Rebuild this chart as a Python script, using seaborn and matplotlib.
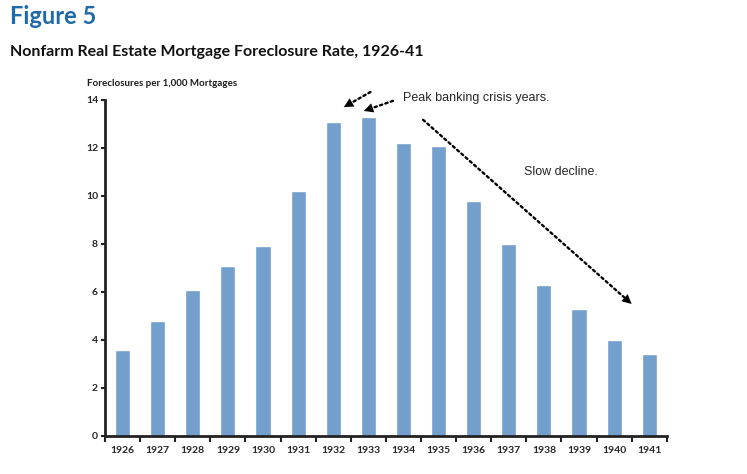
import matplotlib
matplotlib.use("Agg")
import matplotlib.pyplot as plt
import seaborn as sns
import numpy as np

# data
years = ["1926", "1927", "1928", "1929", "1930", "1931", "1932", "1933",
         "1934", "1935", "1936", "1937", "1938", "1939", "1940", "1941"]
rates = [3.6, 4.8, 6.1, 7.1, 7.9, 10.2, 13.1, 13.3,
         12.2, 12.1, 9.8, 8.0, 6.3, 5.3, 4.0, 3.4]
y_ticks = [0, 2, 4, 6, 8, 10, 12, 14]

sns.set_style("ticks")
plt.rcParams["font.family"] = ["Lato", "DejaVu Sans"]

fig = plt.figure(figsize=(7.47, 4.74), dpi=100)
ax = fig.add_axes([0.1406, 0.0802, 0.752, 0.709])

sns.barplot(x=years, y=rates, color="#729fcc", width=0.43, saturation=1, ax=ax)

ax.set_xlim(-0.5, len(years) - 0.5)
ax.set_ylim(0, 14)
ax.set_yticks(y_ticks)
ax.set_yticklabels([str(t) for t in y_ticks], fontsize=7.5, fontweight="bold")
ax.set_xticks(range(len(years)))
ax.set_xticklabels(years, fontsize=7.5, fontweight="bold")
ax.set_xticks(np.arange(-0.5, len(years)), minor=True)
ax.tick_params(axis="x", which="major", length=0, pad=7)
ax.tick_params(axis="x", which="minor", length=4, width=1.5, color="#222222", direction="out")
ax.tick_params(axis="y", length=3, width=1.5, color="#222222", pad=2)
ax.set_xlabel("")
ax.set_ylabel("")
for s in ["top", "right"]:
    ax.spines[s].set_visible(False)
for s in ["left", "bottom"]:
    ax.spines[s].set_linewidth(2)
    ax.spines[s].set_color("#222222")

# titles
fig.text(0.013, 0.99, "Figure 5", fontsize=17, fontweight="bold", color="#1f6aa8", va="top")
fig.text(0.013, 0.905, "Nonfarm Real Estate Mortgage Foreclosure Rate, 1926-41",
         fontsize=11.5, fontweight="bold", color="#111111", va="top")
fig.text(0.117, 0.823, "Foreclosures per 1,000 Mortgages", fontsize=7, fontweight="bold",
         color="#1a1a1a", va="center")


def dotted_arrow(start, end):
    # dotted shaft, then a solid filled head on top
    ax.annotate("", xy=end, xytext=start, annotation_clip=False,
                arrowprops=dict(arrowstyle="-", linestyle=(0, (1, 1.4)), lw=1.7,
                                color="black", shrinkA=0, shrinkB=6))
    ax.annotate("", xy=end, xytext=start, annotation_clip=False,
                arrowprops=dict(arrowstyle="-|>", lw=0.01, color="black",
                                mutation_scale=17, shrinkA=0, shrinkB=0))


dotted_arrow((7.06, 14.33), (6.3, 13.7))
dotted_arrow((7.7, 13.96), (6.87, 13.54))
ax.text(8.0, 14.1, "Peak banking crisis years.", fontsize=9, family=["Liberation Sans"],
        va="center", clip_on=False)
dotted_arrow((8.56, 13.17), (14.5, 5.5))
ax.text(11.43, 11.0, "Slow decline.", fontsize=9, family=["Liberation Sans"], va="center")

fig.savefig("out.png", dpi=100)
